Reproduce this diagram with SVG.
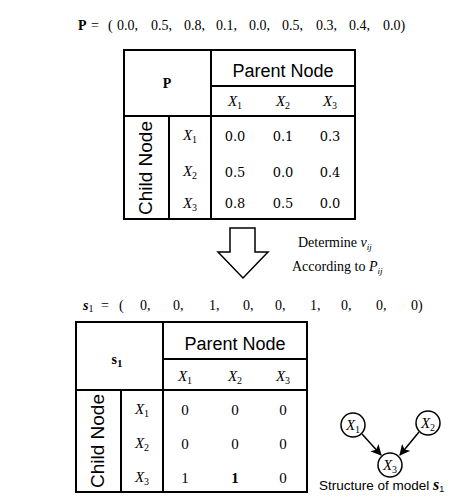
<svg xmlns="http://www.w3.org/2000/svg" width="452" height="504" viewBox="0 0 452 504">
<style>
.bg{fill:#fff}
.ln{stroke:#000;stroke-width:2;fill:none}
.ser{font-family:"Liberation Serif","DejaVu Serif",serif;font-size:14px;fill:#000}
.num{font-family:"DejaVu Serif","Liberation Serif",serif;font-size:13px;fill:#000;text-anchor:middle}
.num2{font-family:"Liberation Serif","DejaVu Serif",serif;font-size:15px;fill:#000;text-anchor:middle}
.xl{font-family:"Liberation Serif","DejaVu Serif",serif;font-size:15px;font-style:italic;fill:#000;text-anchor:middle}
.sub{font-size:10px;font-style:normal}
.sans{font-family:"Liberation Sans","Open Sans",sans-serif;font-size:18px;fill:#000}
.vert{font-family:"Liberation Sans","Open Sans",sans-serif;font-size:19px;fill:#000;text-anchor:middle}
.node{fill:#fff;stroke:#000;stroke-width:1.5}
.edge{stroke:#000;stroke-width:1.5;fill:none;marker-end:url(#ah)}
</style>
<defs>
<marker id="ah" viewBox="0 0 10 10" refX="9" refY="5" markerWidth="11" markerHeight="11" orient="auto" markerUnits="userSpaceOnUse">
<path d="M0,0 L10,5 L0,10 L2.5,5 Z" fill="#000"/>
</marker>
</defs>
<rect class="bg" width="452" height="504"/>

<g id="vectorP">
<text class="ser" y="30"><tspan x="78" font-weight="bold">P</tspan><tspan x="91">=</tspan><tspan x="108">(</tspan><tspan x="117">0.0,</tspan><tspan x="151">0.5,</tspan><tspan x="184">0.8,</tspan><tspan x="216">0.1,</tspan><tspan x="249">0.0,</tspan><tspan x="282">0.5,</tspan><tspan x="316">0.3,</tspan><tspan x="349">0.4,</tspan><tspan x="383">0.0)</tspan></text>
</g>

<g id="tableP">
<rect class="ln" x="124" y="50" width="231" height="169"/>
<line class="ln" x1="211" y1="50" x2="211" y2="219"/>
<line class="ln" x1="211" y1="86" x2="355" y2="86"/>
<line class="ln" x1="124" y1="116" x2="355" y2="116"/>
<line class="ln" x1="169" y1="116" x2="169" y2="219"/>
<text class="ser" x="167" y="88" text-anchor="middle" font-weight="bold" font-size="15">P</text>
<text class="sans" x="283" y="77" text-anchor="middle">Parent Node</text>
<text class="xl" x="235" y="106">X<tspan class="sub" dy="3">1</tspan></text>
<text class="xl" x="283" y="106">X<tspan class="sub" dy="3">2</tspan></text>
<text class="xl" x="330" y="106">X<tspan class="sub" dy="3">3</tspan></text>
<text class="vert" transform="translate(152,168) rotate(-90)">Child Node</text>
<text class="xl" x="190" y="140">X<tspan class="sub" dy="3">1</tspan></text>
<text class="xl" x="190" y="176">X<tspan class="sub" dy="3">2</tspan></text>
<text class="xl" x="190" y="208">X<tspan class="sub" dy="3">3</tspan></text>
<text class="num" x="235" y="141">0.0</text><text class="num" x="283" y="141">0.1</text><text class="num" x="330" y="141">0.3</text>
<text class="num" x="235" y="177">0.5</text><text class="num" x="283" y="177">0.0</text><text class="num" x="330" y="177">0.4</text>
<text class="num" x="235" y="208">0.8</text><text class="num" x="283" y="208">0.5</text><text class="num" x="330" y="208">0.0</text>
</g>

<g id="bigArrow">
<path d="M230,228 L255,228 L255,252 L268,252 L243,278 L218,252 L230,252 Z" fill="#fff" stroke="#000" stroke-width="1.5"/>
<text class="ser" x="298" y="247" font-size="15">Determine <tspan font-style="italic">v</tspan><tspan font-style="italic" font-size="9" dy="3">ij</tspan></text>
<text class="ser" x="292" y="271" font-size="15">According to <tspan font-style="italic">P</tspan><tspan font-style="italic" font-size="9" dy="3">ij</tspan></text>
</g>

<g id="vectorS1">
<text class="ser" y="310" font-size="15"><tspan x="83" font-weight="bold" font-style="italic">s</tspan><tspan font-size="10" dy="2">1</tspan><tspan x="101" dy="-2">=</tspan><tspan x="119">(</tspan><tspan x="140">0,</tspan><tspan x="173">0,</tspan><tspan x="209">1,</tspan><tspan x="243">0,</tspan><tspan x="275">0,</tspan><tspan x="310">1,</tspan><tspan x="341">0,</tspan><tspan x="376">0,</tspan><tspan x="411">0)</tspan></text>
</g>

<g id="tableS1">
<rect class="ln" x="76" y="322" width="231" height="170"/>
<line class="ln" x1="163" y1="322" x2="163" y2="492"/>
<line class="ln" x1="163" y1="359" x2="307" y2="359"/>
<line class="ln" x1="76" y1="390" x2="307" y2="390"/>
<line class="ln" x1="121" y1="390" x2="121" y2="492"/>
<text class="ser" x="117" y="364" text-anchor="middle" font-weight="bold" font-size="16">s<tspan font-size="11" dy="3">1</tspan></text>
<text class="sans" x="235" y="350" text-anchor="middle">Parent Node</text>
<text class="xl" x="185" y="381">X<tspan class="sub" dy="3">1</tspan></text>
<text class="xl" x="235" y="381">X<tspan class="sub" dy="3">2</tspan></text>
<text class="xl" x="283" y="381">X<tspan class="sub" dy="3">3</tspan></text>
<text class="vert" transform="translate(104,441) rotate(-90)">Child Node</text>
<text class="xl" x="142" y="414">X<tspan class="sub" dy="3">1</tspan></text>
<text class="xl" x="142" y="448">X<tspan class="sub" dy="3">2</tspan></text>
<text class="xl" x="142" y="482">X<tspan class="sub" dy="3">3</tspan></text>
<text class="num2" x="185" y="415">0</text><text class="num2" x="235" y="415">0</text><text class="num2" x="283" y="415">0</text>
<text class="num2" x="185" y="449">0</text><text class="num2" x="235" y="449">0</text><text class="num2" x="283" y="449">0</text>
<text class="num2" x="185" y="483">1</text><text class="num2" x="235" y="483" font-weight="bold">1</text><text class="num2" x="283" y="483">0</text>
</g>

<g id="connectors">
<line class="edge" x1="362" y1="434" x2="381" y2="455"/>
<line class="edge" x1="419" y1="432" x2="400" y2="455"/>
</g>
<g id="nodeX1">
<circle class="node" cx="353" cy="425" r="12"/>
<text class="xl" x="353" y="430" font-size="13">X<tspan class="sub" dy="3" font-size="9">1</tspan></text>
</g>
<g id="nodeX2">
<circle class="node" cx="428" cy="423" r="12"/>
<text class="xl" x="428" y="428" font-size="13">X<tspan class="sub" dy="3" font-size="9">2</tspan></text>
</g>
<g id="nodeX3">
<circle class="node" cx="390" cy="465" r="12"/>
<text class="xl" x="390" y="470" font-size="13">X<tspan class="sub" dy="3" font-size="9">3</tspan></text>
</g>
<text x="319" y="490" font-family="'Liberation Sans','Open Sans',sans-serif" font-size="13.5">Structure of model <tspan font-family="'Liberation Serif',serif" font-weight="bold" font-style="italic" font-size="16">s</tspan><tspan font-size="9" dy="2">1</tspan></text>
</svg>
